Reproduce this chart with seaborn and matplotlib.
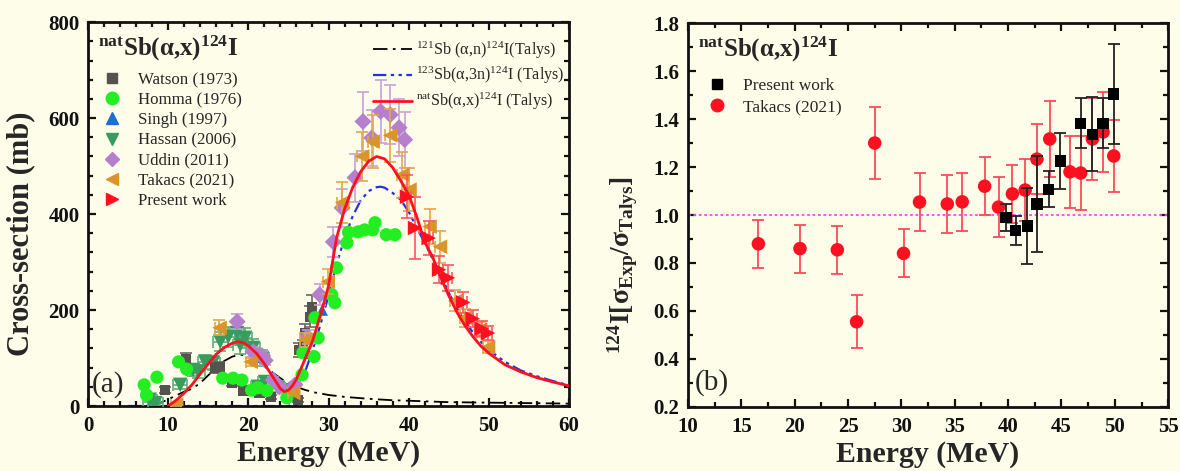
import numpy as np
import pandas as pd
import matplotlib
matplotlib.use("Agg")
import matplotlib.pyplot as plt
from matplotlib.lines import Line2D
from matplotlib.ticker import MultipleLocator
import seaborn as sns

# ---------------- data: panel (a) ----------------
talys_121_E = [8, 9, 10, 11, 12, 13, 14, 15, 16, 17, 18, 19, 20, 21, 22, 23, 24, 25, 26, 27, 28, 30, 32, 35, 38, 40, 45, 50, 55, 60]
talys_121_S = [0, 6, 14, 22, 30, 36, 48, 64, 80, 94, 103, 107, 104, 96, 83, 70, 58, 47, 40, 34, 29, 23, 19, 15, 12, 11, 8, 7, 6, 5]

talys_123_E = [5, 10, 15, 20, 25, 25.5, 26, 27, 28, 29, 30, 31, 32, 33, 34, 35, 36, 36.5, 37, 38, 39, 40, 41, 42, 43, 44, 45, 46, 47, 48, 49, 50, 52, 54, 56, 58, 60]
talys_123_S = [0, 0, 0, 0, 0, 5, 20, 68, 115, 170, 230, 295, 350, 395, 428, 448, 456, 457, 455, 444, 430, 405, 372, 340, 306, 272, 236, 204, 176, 154, 134, 117, 92, 74, 62, 52, 43]

talys_nat_E = [10, 11, 12, 13, 14, 15, 16, 17, 18, 18.7, 19.5, 20, 21, 22, 23, 24, 24.5, 25, 25.5, 26, 27, 28, 29, 30, 31, 32, 33, 34, 35, 36, 37, 38, 39, 40, 41, 42, 43, 44, 45, 46, 47, 48, 49, 50, 52, 54, 56, 58, 60]
talys_nat_S = [0, 12, 27, 45, 67, 88, 108, 122, 131, 134, 131, 125, 110, 88, 62, 36, 30, 33, 42, 56, 95, 135, 190, 250, 350, 410, 455, 488, 510, 520, 515, 497, 470, 440, 395, 342, 310, 268, 230, 196, 168, 145, 125, 110, 86, 71, 59, 50, 42]

watson_E = [9.6, 12.2, 15.8, 16.4, 18.0, 19.4, 21.4, 22.8, 26.2, 26.3, 26.8, 27.1, 27.7, 27.9]
watson_S = [33, 98, 79, 80, 49, 32, 27, 19, 12, 117, 123, 152, 186, 207]

homma_E = [7.0, 7.3, 8.6, 11.3, 12.3, 16.8, 18.1, 19.2, 20.4, 21.2, 22.3, 24.8, 26.7, 26.8, 28.2, 28.3, 28.7, 30.4, 30.8, 31.0, 32.3, 32.5, 33.7, 34.5, 35.5, 35.8, 37.2, 38.3]
homma_S = [44, 23, 60, 92, 77, 58, 58, 54, 33, 38, 32, 17, 65, 111, 103, 184, 142, 232, 215, 288, 340, 362, 363, 367, 367, 382, 357, 357]

singh_E = [25.6, 27.4, 29.2]
singh_S = [20, 110, 200]

hassan_E = [7.7, 8.4, 11.5, 13.1, 13.7, 14.6, 15.6, 16.5, 17.5, 18.6, 19.0, 19.6, 20.6, 21.2, 21.7, 22.1, 23.7, 25.2]
hassan_S = [13, 6, 44, 75, 72, 92, 90, 134, 144, 152, 127, 142, 121, 40, 100, 50, 38, 33]

uddin_E = [18.6, 20.6, 21.7, 22.1, 23.1, 23.9, 25.8, 27.4, 28.9, 30.6, 31.7, 33.3, 34.3, 35.4, 36.5, 37.7, 38.8, 39.5]
uddin_S = [176, 113, 105, 95, 54, 40, 44, 144, 232, 342, 413, 476, 593, 559, 614, 607, 580, 555]
uddin_err = [15, 10, 10, 10, 6, 5, 5, 14, 22, 32, 40, 50, 62, 58, 65, 62, 60, 58]

takacs_E = [11.0, 16.4, 20.3, 25.6, 27.1, 29.9, 31.7, 34.2, 35.5, 37.7, 39.2, 40.1, 42.6, 43.9, 45.8, 47.0, 48.9, 49.9]
takacs_S = [3, 163, 92, 27, 138, 259, 424, 520, 551, 564, 482, 451, 374, 332, 219, 184, 159, 123]
takacs_err = [2, 16, 9, 4, 14, 26, 42, 52, 55, 56, 48, 45, 37, 33, 22, 19, 16, 13]

present_E = [39.8, 40.8, 42.5, 43.8, 44.9, 46.8, 48.0, 49.1, 49.9]
present_S = [436, 371, 350, 284, 267, 216, 182, 161, 152]
present_err = [45, 65, 35, 28, 27, 22, 18, 16, 15]

# ---------------- data: panel (b) ----------------
ratio_tak_E = [16.6, 20.5, 24.0, 25.8, 27.5, 30.2, 31.7, 34.3, 35.7, 37.8, 39.1, 40.4, 41.6, 42.7, 43.9, 45.8, 46.8, 47.9, 48.9, 49.9]
ratio_tak_R = [0.88, 0.86, 0.855, 0.555, 1.30, 0.84, 1.054, 1.046, 1.055, 1.12, 1.033, 1.088, 1.104, 1.233, 1.317, 1.18, 1.175, 1.317, 1.346, 1.246]
ratio_tak_err = [0.10, 0.10, 0.10, 0.11, 0.15, 0.10, 0.12, 0.12, 0.12, 0.12, 0.125, 0.12, 0.13, 0.145, 0.16, 0.15, 0.155, 0.17, 0.165, 0.15]

ratio_pw_E = [39.8, 40.7, 41.8, 42.7, 43.8, 44.9, 46.8, 47.9, 48.9, 49.9]
ratio_pw_R = [0.99, 0.937, 0.954, 1.046, 1.108, 1.225, 1.383, 1.337, 1.383, 1.504]
ratio_pw_err = [0.055, 0.06, 0.16, 0.2, 0.075, 0.115, 0.105, 0.155, 0.105, 0.21]

# ---------------- style ----------------
BG = "#fdfdea"
sns.set_style("ticks")
plt.rcParams["font.family"] = ["Liberation Serif", "DejaVu Serif"]
plt.rcParams["mathtext.fontset"] = "custom"
plt.rcParams["mathtext.rm"] = "Liberation Serif"
plt.rcParams["mathtext.it"] = "Liberation Serif:italic"
plt.rcParams["mathtext.bf"] = "Liberation Serif:bold"
plt.rcParams["axes.facecolor"] = BG
plt.rcParams["figure.facecolor"] = BG

fig = plt.figure(figsize=(11.8, 4.71), dpi=100)
axa = fig.add_axes([0.0746, 0.138, 0.4076, 0.815])
axb = fig.add_axes([0.583, 0.136, 0.407, 0.815])

def style_axes(ax):
    for s in ax.spines.values():
        s.set_linewidth(2.0)
        s.set_color("#111111")
    ax.tick_params(which="both", direction="in", top=True, right=True, width=1.6, colors="#111111")
    ax.tick_params(which="major", length=6)
    ax.tick_params(which="minor", length=3.5)
    ax.tick_params(axis="x", which="major", pad=7)
    ax.tick_params(axis="y", which="major", pad=6)
    for lab in ax.get_xticklabels() + ax.get_yticklabels():
        lab.set_fontweight("bold")
        lab.set_fontsize(15)

# ---------------- panel (a) ----------------
ax = axa
sns.lineplot(x=talys_121_E, y=talys_121_S, ax=ax, color="black", lw=1.3, linestyle=(0, (8, 3, 1.5, 3)), sort=False, zorder=2)
sns.lineplot(x=talys_123_E, y=talys_123_S, ax=ax, color="#2233dd", lw=1.6, linestyle=(0, (6, 2, 1.5, 2, 1.5, 2)), sort=False, zorder=2)

def series(E, S, yerr, xerr, marker, color, ecolor, size, zo):
    if yerr is not None or xerr is not None:
        ax.errorbar(E, S, yerr=yerr, xerr=xerr, fmt="none", ecolor=ecolor, elinewidth=1.2, capsize=4, capthick=1.2, zorder=zo)
    sns.scatterplot(x=E, y=S, ax=ax, marker=marker, color=color, s=size, edgecolor="none", linewidth=0, zorder=zo + 0.5)

series(singh_E, singh_S, None, None, "^", "#1a6fcf", None, 70, 3)
series(hassan_E, hassan_S, [0.12 * v + 4 for v in hassan_S], [0.9] * len(hassan_E), "v", "#3b9a5e", "#5cb07e", 110, 3)
series(watson_E, watson_S, [0.1 * v + 3 for v in watson_S], None, "s", "#55534f", "#6a6862", 55, 4)
series(uddin_E, uddin_S, uddin_err, None, "D", "#b57fcc", "#c9a0dc", 75, 5)
series(homma_E, homma_S, None, None, "o", "#22ee22", None, 90, 6)
series(takacs_E, takacs_S, takacs_err, [0.6] * len(takacs_E), "<", "#d9952a", "#e2a84a", 110, 7)
series(present_E, present_S, present_err, [0.5] * len(present_E), ">", "#ff1020", "#ff5563", 110, 8)

sns.lineplot(x=talys_nat_E, y=talys_nat_S, ax=ax, color="#ff1020", lw=2.0, sort=False, zorder=9)

ax.set_xlim(0, 60)
ax.set_ylim(0, 800)
ax.xaxis.set_major_locator(MultipleLocator(10))
ax.xaxis.set_minor_locator(MultipleLocator(2))
ax.yaxis.set_major_locator(MultipleLocator(200))
ax.yaxis.set_minor_locator(MultipleLocator(40))
ax.set_xlabel("Energy (MeV)", fontsize=21.5, fontweight="bold", labelpad=3)
ax.set_ylabel("Cross-section (mb)", fontsize=22, fontweight="bold")
ax.yaxis.set_label_coords(-0.11, 0.45)
style_axes(ax)

ax.text(0.02, 0.97, r"$^{\mathbf{nat}}$Sb(α,x)$^{\mathbf{124}}$I", transform=ax.transAxes, fontsize=18, fontweight="bold", va="top", ha="left")
ax.text(0.5, 45, "(a)", fontsize=21, va="center", ha="left")

mk_handles = [
    Line2D([], [], ls="none", marker="s", color="#55534f", ms=7),
    Line2D([], [], ls="none", marker="o", color="#22ee22", ms=9),
    Line2D([], [], ls="none", marker="^", color="#1a6fcf", ms=9),
    Line2D([], [], ls="none", marker="v", color="#3b9a5e", ms=9),
    Line2D([], [], ls="none", marker="D", color="#b57fcc", ms=7.5),
    Line2D([], [], ls="none", marker="<", color="#d9952a", ms=9),
    Line2D([], [], ls="none", marker=">", color="#ff1020", ms=9),
]
mk_labels = ["Watson (1973)", "Homma (1976)", "Singh (1997)", "Hassan (2006)", "Uddin (2011)", "Takacs (2021)", "Present work"]
leg1 = ax.legend(mk_handles, mk_labels, loc="upper left", bbox_to_anchor=(0.015, 0.887), frameon=False,
                 fontsize=12.2, handlelength=1.2, handletextpad=0.9, labelspacing=0.24, borderaxespad=0)
ax.add_artist(leg1)

ln_handles = [
    Line2D([], [], color="black", lw=1.3, ls=(0, (8, 3, 1.5, 3))),
    Line2D([], [], color="#2233dd", lw=1.6, ls=(0, (6, 2, 1.5, 2, 1.5, 2))),
    Line2D([], [], color="#ff1020", lw=2.0),
]
ln_labels = [r"$^{121}$Sb (α,n)$^{124}$I(Talys)", r"$^{123}$Sb(α,3n)$^{124}$I (Talys)", r"$^{\mathrm{nat}}$Sb(α,x)$^{124}$I (Talys)"]
ax.legend(ln_handles, ln_labels, loc="upper right", bbox_to_anchor=(1.005, 0.972), frameon=False,
          fontsize=11.6, handlelength=2.4, handletextpad=0.3, labelspacing=0.28, borderaxespad=0)

# ---------------- panel (b) ----------------
ax = axb
ax.axhline(1.0, color="#ff44ff", lw=1.3, ls=(0, (1.5, 1.5)), zorder=1)
ax.errorbar(ratio_tak_E, ratio_tak_R, yerr=ratio_tak_err, fmt="none", ecolor="#ff4a5a", elinewidth=1.3, capsize=4, capthick=1.3, zorder=3)
sns.scatterplot(x=ratio_tak_E, y=ratio_tak_R, ax=ax, marker="o", color="#ff1020", s=95, edgecolor="none", linewidth=0, zorder=4)
ax.errorbar(ratio_pw_E, ratio_pw_R, yerr=ratio_pw_err, fmt="none", ecolor="#222222", elinewidth=1.3, capsize=4, capthick=1.3, zorder=5)
sns.scatterplot(x=ratio_pw_E, y=ratio_pw_R, ax=ax, marker="s", color="black", s=65, edgecolor="none", linewidth=0, zorder=6)

ax.set_xlim(10, 55)
ax.set_ylim(0.2, 1.8)
ax.xaxis.set_major_locator(MultipleLocator(5))
ax.xaxis.set_minor_locator(MultipleLocator(2.5))
ax.yaxis.set_major_locator(MultipleLocator(0.2))
ax.yaxis.set_minor_locator(MultipleLocator(0.1))
ax.yaxis.set_major_formatter(matplotlib.ticker.FormatStrFormatter("%.1f"))
ax.set_xlabel("Energy (MeV)", fontsize=21.5, fontweight="bold", labelpad=3)
ax.set_ylabel(r"$^{\mathbf{124}}$I[σ$_{\mathbf{Exp}}$/σ$_{\mathbf{Talys}}$]", fontsize=20, fontweight="bold")
ax.yaxis.set_label_coords(-0.10, 0.37)
style_axes(ax)

ax.text(0.02, 0.97, r"$^{\mathbf{nat}}$Sb(α,x)$^{\mathbf{124}}$I", transform=ax.transAxes, fontsize=18, fontweight="bold", va="top", ha="left")
ax.text(10.6, 0.3, "(b)", fontsize=21, va="center", ha="left")
pw_handles = [
    Line2D([], [], ls="none", marker="s", color="black", ms=7),
    Line2D([], [], ls="none", marker="o", color="#ff1020", ms=9),
]
ax.legend(pw_handles, ["Present work", "Takacs (2021)"], loc="upper left", bbox_to_anchor=(0.025, 0.875), frameon=False,
          fontsize=12.5, handlelength=1.2, handletextpad=0.9, labelspacing=0.28, borderaxespad=0)

fig.savefig("out.png", dpi=100, facecolor=BG)
